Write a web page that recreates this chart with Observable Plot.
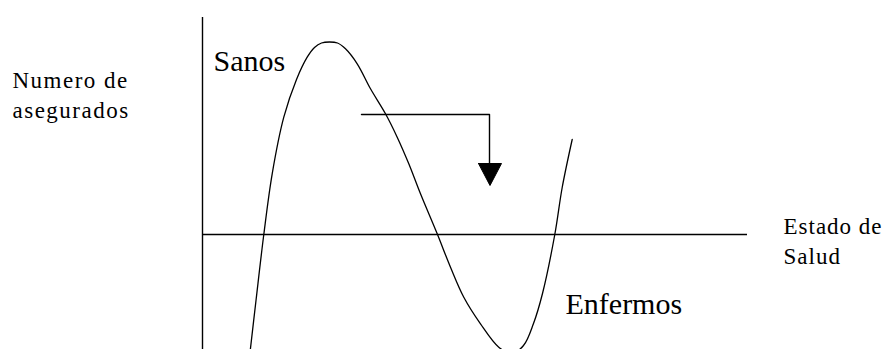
<!DOCTYPE html>
<html>
<head>
<meta charset="utf-8">
<script src="https://cdn.jsdelivr.net/npm/d3@7"></script>
<script src="https://cdn.jsdelivr.net/npm/@observablehq/plot@0.6"></script>
<style>
  html, body { margin: 0; padding: 0; background: #fff; }
</style>
</head>
<body>
<div id="chart"></div>
<script>
// Curve: estado de salud (x) vs número de asegurados (y), axis crossing at y = 0
const curveX = [47.5, 53.5, 61.3, 69.7, 81.3, 94, 104.7, 112, 119, 127, 135, 143, 154.7, 168, 183, 194.7, 206.3, 218, 234.7, 248, 261.3, 278, 296.3, 309, 321, 331, 340, 352.3, 359.7, 369.7];
const curveY = [-118, -66, 0, 60.7, 117.3, 155, 177.3, 187, 191.5, 192.5, 191.5, 185.7, 170.7, 145.7, 120.7, 97.3, 70.7, 40.7, 0.7, -32.7, -62.7, -89.3, -112.7, -119, -111, -89, -59, 0, 47, 95];

// Arrow (shift of healthy towards sick)
const arrowX = [159, 287, 287];
const arrowY = [120, 120, 71];
const arrowHeadX = [276, 299, 287.5, 276];
const arrowHeadY = [71, 71, 49, 71];

// Axes extents
const xAxisEnd = 545;
const yAxisTop = 217;
const yAxisBottom = -115;

// Labels
const bigLabels = [
  {text: "Sanos", x: 11, y: 164},
  {text: "Enfermos", x: 363, y: -79}
];
const smallLabels = [
  {text: "Numero de\nasegurados", x: -190, y: 117},
  {text: "Estado de\nSalud", x: 581, y: -29}
];

const curve = curveX.map((x, i) => ({x, y: curveY[i]}));
const arrow = arrowX.map((x, i) => ({x, y: arrowY[i]}));
const head = arrowHeadX.map((x, i) => ({x, y: arrowHeadY[i]}));
const font = "'Liberation Serif', 'Times New Roman', serif";

const chart = Plot.plot({
  width: 884,
  height: 349,
  marginLeft: 202,
  marginRight: 137,
  marginTop: 17,
  marginBottom: 0,
  style: {fontFamily: font, background: "#fff"},
  x: {domain: [0, xAxisEnd], axis: null},
  y: {domain: [yAxisBottom, yAxisTop], axis: null},
  marks: [
    Plot.ruleX([0], {y1: yAxisBottom, y2: yAxisTop, stroke: "#000", strokeWidth: 1.4}),
    Plot.ruleY([0], {x1: 0, x2: xAxisEnd, stroke: "#000", strokeWidth: 1.4}),
    Plot.line(curve, {x: "x", y: "y", curve: "catmull-rom", stroke: "#000", strokeWidth: 1.3, clip: true}),
    Plot.line(arrow, {x: "x", y: "y", stroke: "#000", strokeWidth: 1.4}),
    Plot.line(head, {x: "x", y: "y", stroke: "#000", fill: "#000", strokeWidth: 1}),
    Plot.text(bigLabels, {
      x: "x", y: "y", text: "text", textAnchor: "start", lineAnchor: "bottom",
      fontSize: 30, fontFamily: font, fill: "#000"
    }),
    Plot.text(smallLabels, {
      x: "x", y: "y", text: "text", textAnchor: "start", lineAnchor: "bottom",
      lineHeight: 1.28, fontSize: 23, fontFamily: font, fill: "#000"
    })
  ]
});

d3.select(chart).selectAll("text").each(function() {
  const t = this.textContent;
  if (t.startsWith("Numero")) this.style.letterSpacing = "1.5px";
  else if (t.startsWith("Estado")) this.style.letterSpacing = "1px";
});
document.getElementById("chart").appendChild(chart);
</script>
</body>
</html>
